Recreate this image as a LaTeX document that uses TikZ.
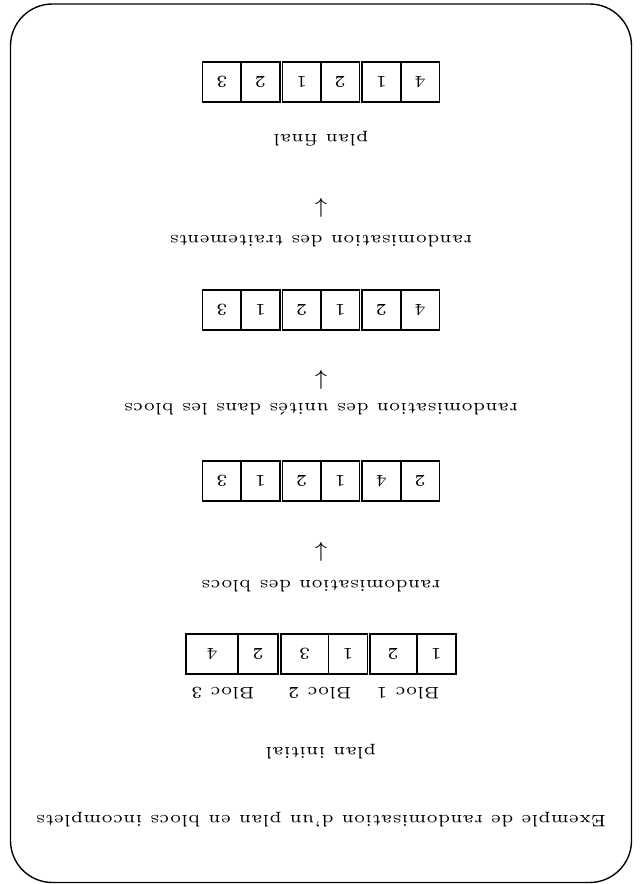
\documentclass[tikz,border=0pt]{standalone}
\tikzset{
  every node/.style = {font=\fontsize{5.4}{6.5}\selectfont, inner sep=0pt},
  cadre/.style      = {line width=0.45pt, rounded corners=13.6pt},
  cell/.style       = {draw, line width=0.55pt, minimum width=12.53pt, minimum height=13pt},
  etape/.style      = {inner sep=0pt},
  fleche/.style     = {inner sep=0pt, font=\fontsize{7.3}{8}\selectfont},
}
\begin{document}
\begin{tikzpicture}[x=0.3247pt, y=0.3247pt, rotate=180, transform shape]
  \useasboundingbox (-321,-442) rectangle (321,442);
  \draw[cadre] (-310.5,-438) rectangle (310.5,440.5);

  \node[etape] (titre) at (0,378) {Exemple de randomisation d'un plan en blocs incomplets};
  \node[etape] (init) at (0,310) {plan initial};

  % plan initial, trois blocs de deux unites
  \node (bloc1) at (-87,251) {Bloc 1};
  \node (bloc2) at (1,251) {Bloc 2};
  \node (bloc3) at (98,251) {Bloc 3};
  \node[cell, minimum width=12.66pt] (a1) at (-115.2,212) {1};
  \node[cell, minimum width=15.16pt] (a2) at (-72.3,212) {2};
  \node[cell, minimum width=12.76pt] (a3) at (-27,212) {1};
  \node[cell, minimum width=15.36pt] (a4) at (16.3,212) {3};
  \node[cell, minimum width=12.99pt] (a5) at (62.7,212) {2};
  \node[cell, minimum width=16.98pt] (a6) at (108.8,212) {4};

  \node[etape] (rblocs) at (0,144) {randomisation des blocs};
  \node[fleche] (f1) at (0,110) {$\downarrow$};
  \foreach \x/\v [count=\i] in {-99.1/2,-60.5/4,-19.3/1,19.3/2,60.5/1,99.1/3}
    \node[cell] (b\i) at (\x,39) {\v};

  \node[etape] (runites) at (0,-33) {randomisation des unit\'es dans les blocs};
  \node[fleche] (f2) at (0,-62) {$\downarrow$};
  \foreach \x/\v [count=\i] in {-99.1/4,-60.5/2,-19.3/1,19.3/2,60.5/1,99.1/3}
    \node[cell] (c\i) at (\x,-132) {\v};

  \node[etape] (rtrait) at (0,-201) {randomisation des traitements};
  \node[fleche] (f3) at (0,-234) {$\downarrow$};
  \node[etape] (final) at (0,-303) {plan final};
  \foreach \x/\v [count=\i] in {-99.1/4,-60.5/1,-19.3/2,19.3/1,60.5/2,99.1/3}
    \node[cell] (d\i) at (\x,-360) {\v};
\end{tikzpicture}
\end{document}
